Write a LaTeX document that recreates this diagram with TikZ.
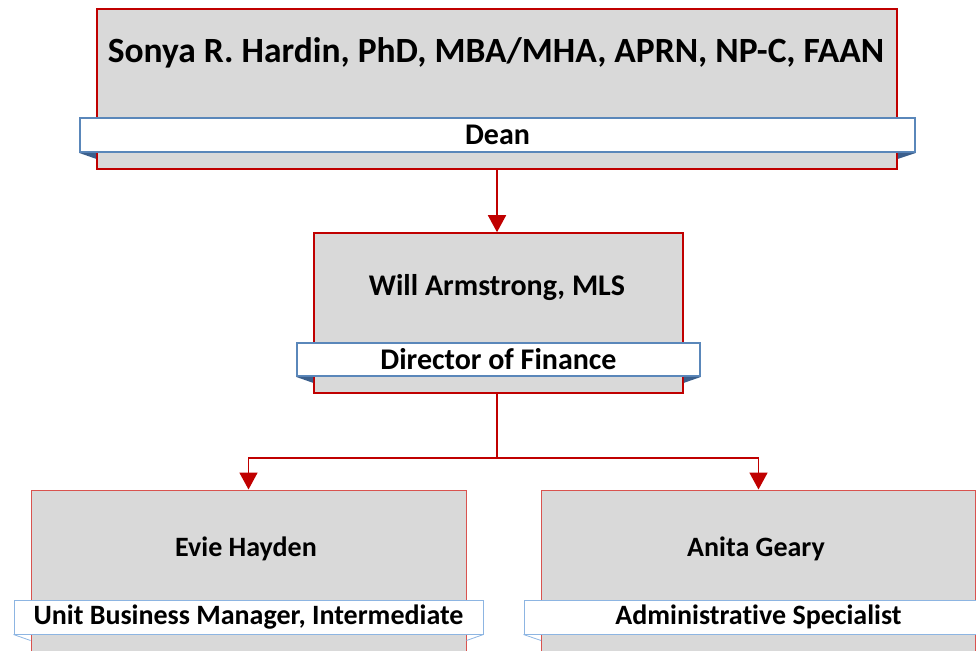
\documentclass[tikz,border=0pt]{standalone}
\usepackage{fontspec}
\setmainfont[Ligatures=NoCommon]{Carlito}
\usetikzlibrary{arrows.meta}
\definecolor{boxred}{HTML}{C00000}
\definecolor{boxgray}{HTML}{D9D9D9}
\definecolor{bandblue}{HTML}{5A87BA}
\definecolor{bandlight}{HTML}{8DB5E2}
\definecolor{folddark}{HTML}{3B5F8C}
\definecolor{lightred}{HTML}{D9534F}
\tikzset{
  personbox/.style={draw=boxred, fill=boxgray, line width=1.6pt, inner sep=0pt},
  personboxlow/.style={draw=lightred, fill=boxgray, line width=1pt, inner sep=0pt},
  band/.style={draw=bandblue, fill=white, line width=1.8pt, inner sep=0pt, font=\bfseries\fontsize{30}{32}\selectfont},
  bandlow/.style={draw=bandlight, fill=white, line width=1pt, inner sep=0pt, font=\bfseries\fontsize{28}{30}\selectfont},
  nametext/.style={inner sep=0pt, font=\bfseries\fontsize{30}{32}\selectfont},
  nametextlow/.style={inner sep=0pt, font=\bfseries\fontsize{28}{30}\selectfont},
  fold/.style={fill=folddark},
  link/.style={draw=boxred, line width=1.8pt},
  linkarrow/.style={link, -{Triangle[width=18pt,length=17pt]}, color=boxred}
}
\begin{document}
\begin{tikzpicture}[x=1pt,y=-1pt]
\useasboundingbox (0,0) rectangle (976,650);
\clip (0,0) rectangle (976,650);
% boxes
\node[personbox, minimum width=800pt, minimum height=160pt] (b1) at (497,89) {};
\node[personbox, minimum width=369pt, minimum height=160pt] (b2) at (498.5,313) {};
\node[personboxlow, minimum width=435pt, minimum height=200pt] (b3) at (248.5,590) {};
\node[personboxlow, minimum width=434pt, minimum height=200pt] (b4) at (758.5,590) {};
% names
\node[nametext, font=\bfseries\fontsize{35.5}{38}\selectfont] (n1) at (496,53) {Sonya R. Hardin, PhD, MBA/MHA, APRN, NP-C, FAAN};
\node[nametext] (n2) at (497,288) {Will Armstrong, MLS};
\node[nametextlow] (n3) at (246,549) {Evie Hayden};
\node[nametextlow] (n4) at (756,549) {Anita Geary};
% bands
\node[band, minimum width=835pt, minimum height=34pt] (t1) at (497.5,135) {Dean};
\node[band, minimum width=403pt, minimum height=33pt] (t2) at (498.5,359.5) {Director of Finance};
\node[bandlow, minimum width=469pt, minimum height=34pt] (t3) at (248.5,617) {Unit Business Manager, Intermediate};
\node[bandlow, minimum width=469pt, minimum height=34pt] (t4) at (758.5,617) {Administrative Specialist};
% folds
\fill[fold] (t1.south west) -- (t1.south west -| b1.west) -- ([yshift=-6pt]t1.south west -| b1.west) -- cycle;
\fill[fold] (t1.south east) -- (t1.south east -| b1.east) -- ([yshift=-6pt]t1.south east -| b1.east) -- cycle;
\fill[fold] (t2.south west) -- (t2.south west -| b2.west) -- ([yshift=-6pt]t2.south west -| b2.west) -- cycle;
\fill[fold] (t2.south east) -- (t2.south east -| b2.east) -- ([yshift=-6pt]t2.south east -| b2.east) -- cycle;
\draw[bandlight, line width=0.8pt] (t3.south west) -- ([yshift=-6pt]t3.south west -| b3.west);
\draw[bandlight, line width=0.8pt] (t3.south east) -- ([yshift=-6pt]t3.south east -| b3.east);
\draw[bandlight, line width=0.8pt] (t4.south west) -- ([yshift=-6pt]t4.south west -| b4.west);
% connectors
\coordinate (j) at (497,458);
\draw[linkarrow] (b1.south -| j) -- (b2.north -| j);
\draw[link] (b2.south -| j) -- (j);
\draw[linkarrow] (j) -| (b3.north);
\draw[linkarrow] (j) -| (b4.north);
\end{tikzpicture}
\end{document}
